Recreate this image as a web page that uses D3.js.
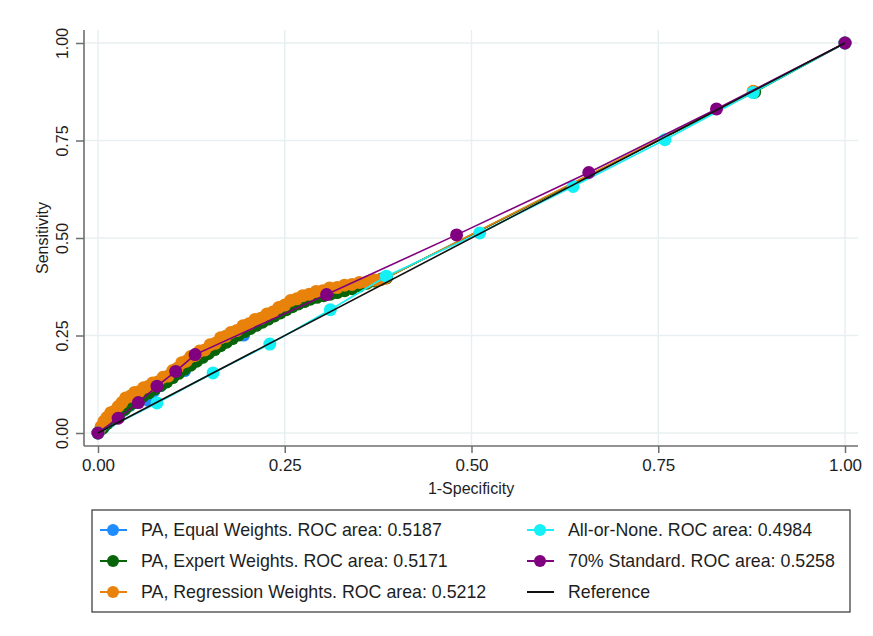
<!DOCTYPE html>
<html lang="en">
    <head>
        <meta charset="utf-8">
        <title>ROC comparison</title>
        <script type="text/javascript" src="https://d3js.org/d3.v7.min.js"></script>
        <style type="text/css">
            body { margin: 0; background: #fff; }
            text { font-family: "Liberation Sans", Arial, sans-serif; fill: #1e1e1e; }
        </style>
    </head>
    <body>
        <script type="text/javascript">

            const width = 873;
            const height = 636;

            // tick values for both axes
            const ticks = [0, 0.25, 0.5, 0.75, 1];

            // [1-specificity, sensitivity] pairs
            const equalPts = [
                [0, 0], [0.008, 0.016], [0.016, 0.030], [0.025, 0.044], [0.034, 0.058], [0.042, 0.070],
                [0.050, 0.078], [0.058, 0.086], [0.067, 0.084], [0.075, 0.108], [0.084, 0.122], [0.092, 0.134],
                [0.100, 0.145], [0.108, 0.156], [0.116, 0.160], [0.124, 0.177], [0.132, 0.188], [0.140, 0.198],
                [0.148, 0.208], [0.156, 0.218], [0.164, 0.228], [0.172, 0.237], [0.180, 0.246], [0.188, 0.254],
                [0.195, 0.251], [0.204, 0.272], [0.212, 0.280], [0.220, 0.288], [0.228, 0.296], [0.236, 0.304],
                [0.244, 0.312], [0.252, 0.320], [0.260, 0.328], [0.268, 0.335], [0.276, 0.341], [0.284, 0.347],
                [0.293, 0.352], [0.302, 0.356], [0.311, 0.360], [0.320, 0.364], [0.330, 0.369], [0.340, 0.374],
                [0.350, 0.380], [0.360, 0.386], [0.370, 0.391], [0.380, 0.395], [0.386, 0.398],
                [0.878, 0.875], [1, 1]
            ];

            const expertPts = [
                [0, 0], [0.006, 0.012], [0.012, 0.024], [0.020, 0.036], [0.028, 0.048], [0.036, 0.061],
                [0.044, 0.074], [0.052, 0.084], [0.060, 0.094], [0.068, 0.103], [0.076, 0.113], [0.084, 0.122],
                [0.092, 0.131], [0.100, 0.142], [0.108, 0.153], [0.116, 0.164], [0.124, 0.174], [0.132, 0.184],
                [0.140, 0.194], [0.148, 0.204], [0.156, 0.214], [0.164, 0.224], [0.172, 0.233], [0.180, 0.242],
                [0.188, 0.251], [0.196, 0.260], [0.204, 0.268], [0.212, 0.276], [0.220, 0.284], [0.228, 0.292],
                [0.236, 0.300], [0.244, 0.308], [0.252, 0.316], [0.260, 0.324], [0.268, 0.331], [0.276, 0.337],
                [0.284, 0.343], [0.293, 0.348], [0.302, 0.352], [0.311, 0.356], [0.320, 0.360], [0.330, 0.365],
                [0.340, 0.370], [0.350, 0.377], [0.360, 0.384], [0.370, 0.390], [0.380, 0.395], [0.386, 0.398],
                [0.879, 0.874], [1, 1]
            ];

            const regressionPts = [
                [0, 0], [0.004, 0.016], [0.008, 0.030], [0.012, 0.040], [0.017, 0.052], [0.022, 0.056],
                [0.027, 0.068], [0.032, 0.078], [0.037, 0.090], [0.043, 0.094], [0.049, 0.104], [0.055, 0.106],
                [0.061, 0.116], [0.067, 0.119], [0.073, 0.128], [0.080, 0.131], [0.087, 0.143], [0.094, 0.146],
                [0.100, 0.160], [0.106, 0.166], [0.112, 0.180], [0.118, 0.184], [0.124, 0.196], [0.130, 0.199],
                [0.136, 0.210], [0.143, 0.213], [0.150, 0.226], [0.157, 0.230], [0.164, 0.244], [0.171, 0.248],
                [0.178, 0.258], [0.186, 0.263], [0.194, 0.275], [0.202, 0.280], [0.210, 0.291], [0.218, 0.294],
                [0.226, 0.305], [0.234, 0.310], [0.242, 0.322], [0.250, 0.328], [0.258, 0.340], [0.266, 0.344],
                [0.274, 0.352], [0.283, 0.356], [0.292, 0.363], [0.301, 0.365], [0.310, 0.372], [0.320, 0.373],
                [0.330, 0.379], [0.340, 0.381], [0.350, 0.386], [0.360, 0.387], [0.370, 0.392], [0.378, 0.393],
                [0.385, 0.397],
                [0.877, 0.876], [1, 1]
            ];

            const allNonePts = [
                [0, 0], [0.079, 0.077], [0.154, 0.154], [0.230, 0.228], [0.311, 0.316], [0.386, 0.402],
                [0.511, 0.513], [0.636, 0.632], [0.759, 0.752], [0.877, 0.873], [1, 1]
            ];

            const standardPts = [
                [0, 0], [0.027, 0.038], [0.054, 0.078], [0.079, 0.120], [0.104, 0.158], [0.130, 0.201],
                [0.306, 0.355], [0.480, 0.508], [0.657, 0.668], [0.828, 0.831], [1, 1]
            ];

            const referencePts = [[0, 0], [1, 1]];

            const seriesNames = [
                "PA, Equal Weights. ROC area: 0.5187",
                "PA, Expert Weights. ROC area: 0.5171",
                "PA, Regression Weights. ROC area: 0.5212",
                "All-or-None. ROC area: 0.4984",
                "70% Standard. ROC area: 0.5258",
                "Reference"
            ];
            const seriesColors = ["#1e8cff", "#086408", "#e8820a", "#14f0f5", "#800080", "#111111"];
            const seriesData = [equalPts, expertPts, regressionPts, allNonePts, standardPts, referencePts];

            // plot region and scales
            const plotLeft = 84, plotRight = 858, plotTop = 30, plotBottom = 446;

            const xScale = d3.scaleLinear().domain([0, 1]).range([98, 845]);
            const yScale = d3.scaleLinear().domain([0, 1]).range([433, 43]);

            const svg = d3.select("body")
                          .append("svg")
                          .attr("width", width)
                          .attr("height", height);

            svg.append("rect")
               .attr("width", width)
               .attr("height", height)
               .attr("fill", "#fff");

            // grid
            svg.selectAll(".hgrid")
               .data(ticks)
               .enter()
               .append("line")
               .attr("x1", plotLeft)
               .attr("x2", plotRight)
               .attr("y1", d => yScale(d))
               .attr("y2", d => yScale(d))
               .attr("stroke", "#e8eff1")
               .attr("stroke-width", 1.5);

            svg.selectAll(".vgrid")
               .data(ticks)
               .enter()
               .append("line")
               .attr("x1", d => xScale(d))
               .attr("x2", d => xScale(d))
               .attr("y1", plotTop)
               .attr("y2", plotBottom)
               .attr("stroke", "#e8eff1")
               .attr("stroke-width", 1.5);

            // axes
            const bottomAxis = d3.axisBottom(xScale)
                                 .tickValues(ticks)
                                 .tickFormat(d3.format(".2f"))
                                 .tickSize(7)
                                 .tickPadding(6);
            const gx = svg.append("g")
                          .attr("transform", "translate(0," + plotBottom + ")")
                          .call(bottomAxis);
            gx.select(".domain").remove();
            gx.selectAll("line").attr("stroke", "#6e6e6e").attr("stroke-width", 1.5);
            gx.selectAll("text").attr("font-size", "17px").attr("fill", "#1e1e1e").attr("font-family", "Liberation Sans, Arial, sans-serif");

            const leftAxis = d3.axisLeft(yScale)
                               .tickValues(ticks)
                               .tickFormat(d3.format(".2f"))
                               .tickSize(8)
                               .tickPadding(0);
            const gy = svg.append("g")
                          .attr("transform", "translate(" + plotLeft + ",0)")
                          .call(leftAxis);
            gy.select(".domain").remove();
            gy.selectAll("line").attr("stroke", "#6e6e6e").attr("stroke-width", 1.5);
            gy.selectAll("text")
              .attr("x", null)
              .attr("dy", null)
              .attr("font-size", "16px")
              .attr("fill", "#1e1e1e")
              .attr("font-family", "Liberation Sans, Arial, sans-serif")
              .attr("text-anchor", "middle")
              .attr("transform", "translate(-16,0) rotate(-90)");

            svg.append("line")
               .attr("x1", plotLeft).attr("x2", plotLeft)
               .attr("y1", plotTop).attr("y2", plotBottom)
               .attr("stroke", "#6e6e6e").attr("stroke-width", 1.6);
            svg.append("line")
               .attr("x1", plotLeft).attr("x2", plotRight)
               .attr("y1", plotBottom).attr("y2", plotBottom)
               .attr("stroke", "#6e6e6e").attr("stroke-width", 1.6);

            // axis titles
            svg.append("text")
               .attr("x", 471)
               .attr("y", 494)
               .attr("text-anchor", "middle")
               .attr("font-size", "16px")
               .text("1-Specificity");

            svg.append("text")
               .attr("transform", "translate(48,238) rotate(-90)")
               .attr("text-anchor", "middle")
               .attr("font-size", "16px")
               .text("Sensitivity");

            // curves
            const line = d3.line()
                           .x(d => xScale(d[0]))
                           .y(d => yScale(d[1]));

            seriesData.forEach((pts, i) => {
                svg.append("path")
                   .datum(pts)
                   .attr("d", line)
                   .attr("fill", "none")
                   .attr("stroke", seriesColors[i])
                   .attr("stroke-width", 1.6);

                if (i < 5) {
                    svg.append("g")
                       .selectAll("circle")
                       .data(pts)
                       .enter()
                       .append("circle")
                       .attr("cx", d => xScale(d[0]))
                       .attr("cy", d => yScale(d[1]))
                       .attr("r", 6.5)
                       .attr("fill", seriesColors[i]);
                }
            });

            // legend
            svg.append("rect")
               .attr("x", 92)
               .attr("y", 510)
               .attr("width", 758)
               .attr("height", 102)
               .attr("fill", "none")
               .attr("stroke", "#333")
               .attr("stroke-width", 1.2);

            const legendCols = [113, 540];
            const legendRows = [530, 561, 592];

            seriesNames.forEach((name, i) => {
                const cx = legendCols[Math.floor(i / 3)];
                const cy = legendRows[i % 3];
                svg.append("line")
                   .attr("x1", cx - 13).attr("x2", cx + 14)
                   .attr("y1", cy).attr("y2", cy)
                   .attr("stroke", seriesColors[i])
                   .attr("stroke-width", 2);
                if (i < 5) {
                    svg.append("circle")
                       .attr("cx", cx)
                       .attr("cy", cy)
                       .attr("r", 6)
                       .attr("fill", seriesColors[i]);
                }
                svg.append("text")
                   .attr("x", cx + 28)
                   .attr("y", cy + 6)
                   .attr("font-size", "17.8px")
                   .text(name);
            });

        </script>
    </body>
</html>
